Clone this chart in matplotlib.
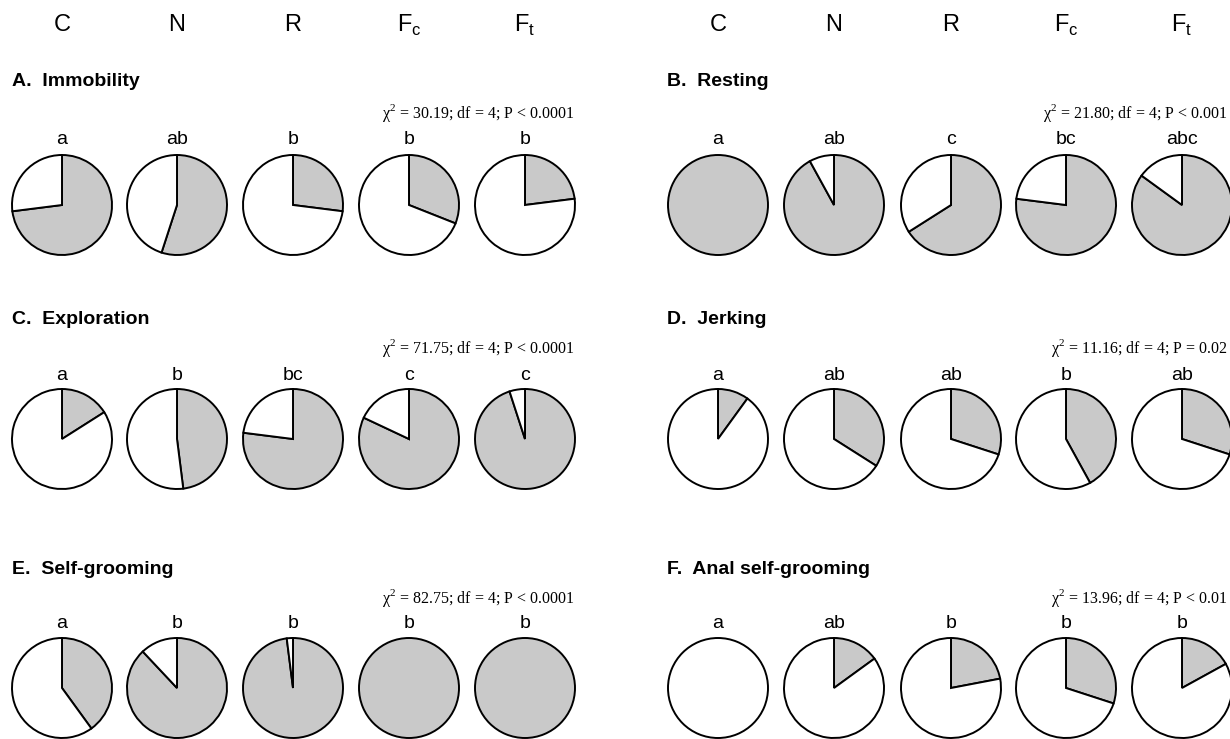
import matplotlib
matplotlib.use("Agg")
import matplotlib.pyplot as plt

# Kelompok perlakuan (kolom)
groups = ["C", "N", "R", "F$_\\mathregular{c}$", "F$_\\mathregular{t}$"]

# Judul panel
titles = ["A.  Immobility", "B.  Resting", "C.  Exploration",
          "D.  Jerking", "E.  Self-grooming", "F.  Anal self-grooming"]

# Statistik chi-square
stats = ["30.19; df = 4; P < 0.0001", "21.80; df = 4; P < 0.001",
         "71.75; df = 4; P < 0.0001", "11.16; df = 4; P = 0.02",
         "82.75; df = 4; P < 0.0001", "13.96; df = 4; P < 0.01"]

# Huruf signifikansi tiap pie
letters = [["a", "ab", "b", "b", "b"],
           ["a", "ab", "c", "bc", "abc"],
           ["a", "b", "bc", "c", "c"],
           ["a", "ab", "ab", "b", "ab"],
           ["a", "b", "b", "b", "b"],
           ["a", "ab", "b", "b", "b"]]

# Proporsi bagian abu-abu
immobility = [0.73, 0.55, 0.27, 0.31, 0.23]
resting = [1.00, 0.92, 0.66, 0.77, 0.85]
exploration = [0.16, 0.48, 0.77, 0.82, 0.95]
jerking = [0.10, 0.34, 0.30, 0.42, 0.30]
self_grooming = [0.40, 0.88, 0.98, 1.00, 1.00]
anal_grooming = [0.00, 0.15, 0.22, 0.30, 0.17]
fractions = [immobility, resting, exploration, jerking, self_grooming, anal_grooming]

W, H = 1230, 739
fig = plt.figure(figsize=(W / 100, H / 100), dpi=100)
ax = fig.add_axes([0, 0, 1, 1])

col_x = [[62, 177, 293, 409, 525], [718, 834, 951, 1066, 1182]]
title_x = [12, 667]
stat_x = [575, 1228]
row_y = [(82, 113, 140, 205), (320, 348, 375, 439), (570, 598, 623, 688)]
R = 50
GREY = "#c9c9c9"

# header kolom
for side in range(2):
    for j, g in enumerate(groups):
        ax.text(col_x[side][j], H - 25, g, ha="center", va="center",
                fontsize=17, family="Liberation Sans")

for k in range(6):
    row, side = k // 2, k % 2
    ty, sy, ly, py = row_y[row]
    ax.text(title_x[side], H - ty, titles[k], ha="left", va="center",
            fontsize=14, fontweight="bold", family="Liberation Sans")
    ax.text(stat_x[side], H - sy, "\u03c7$^\\mathregular{2}$ = " + stats[k],
            ha="right", va="center", fontsize=11.5, family="Liberation Serif")
    for j in range(5):
        cx = col_x[side][j]
        ax.text(cx, H - ly, letters[k][j], ha="center", va="center",
                fontsize=14, family="Liberation Sans")
        f = fractions[k][j]
        vals, cols = [], []
        if f > 0:
            vals.append(f)
            cols.append(GREY)
        if f < 1:
            vals.append(1 - f)
            cols.append("white")
        ax.pie(vals, colors=cols, startangle=90, counterclock=False,
               center=(cx, H - py), radius=R, normalize=True,
               wedgeprops=dict(edgecolor="black", linewidth=1.4))

ax.set_xlim(0, W)
ax.set_ylim(0, H)
ax.set_aspect("equal")
ax.axis("off")

fig.savefig("out.png", dpi=100)
